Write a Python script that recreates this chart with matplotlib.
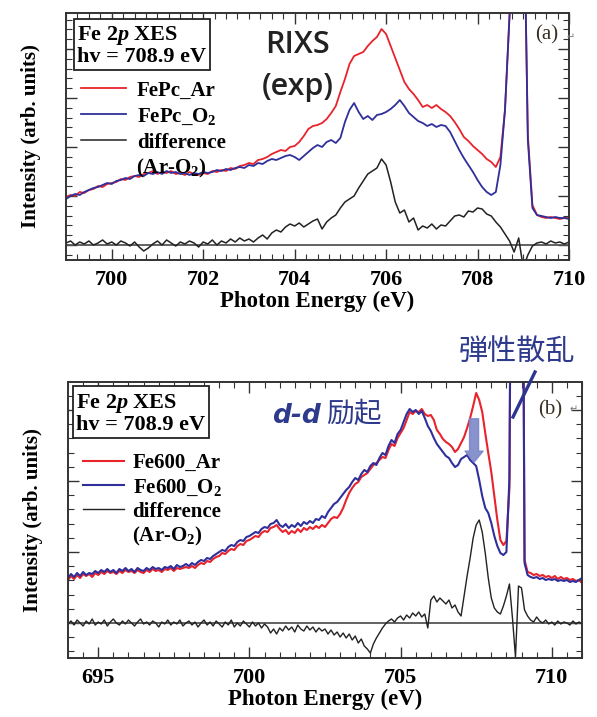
import numpy as np
import matplotlib
matplotlib.use("Agg")
import matplotlib.pyplot as plt
from matplotlib.lines import Line2D
from matplotlib.ticker import MultipleLocator

plt.rcParams['font.family'] = ['Liberation Serif', 'DejaVu Serif']
plt.rcParams['font.weight'] = 'bold'
plt.rcParams['axes.labelweight'] = 'bold'
plt.rcParams['mathtext.fontset'] = 'custom'
plt.rcParams['mathtext.rm'] = 'Liberation Serif:bold'
plt.rcParams['mathtext.bf'] = 'Liberation Serif:bold'
plt.rcParams['mathtext.it'] = 'Liberation Serif:italic:bold'

# ---- panel (a): FePc, 699-710 eV, step 0.1 eV ----
energy_a = np.round(np.arange(699.0, 710.05, 0.1), 1)

fepc_ar = [63, 65, 64, 68, 67, 70, 71, 74, 73, 76,
           77, 78, 81, 80, 83, 84, 83, 86, 87, 89,
           86, 88, 87, 89, 86, 87, 85, 88, 86, 85,
           87, 86, 89, 88, 90, 89, 92, 91, 94, 95,
           97, 96, 100, 101, 103, 106, 108, 110, 109, 113,
           114, 118, 124, 131, 134, 135, 137, 141, 147, 154,
           168, 181, 196, 204, 206, 208, 214, 219, 223, 231,
           226, 214, 202, 190, 178, 171, 166, 160, 153, 155,
           152, 155, 151, 148, 144, 138, 131, 123, 119, 114,
           110, 106, 101, 98, 93, 103, 150, 245, 900, 900,
           400, 125, 55, 45, 43, 42, 43, 42, 41, 42, 42]

fepc_o2 = [61, 64, 66, 65, 68, 70, 72, 73, 75, 77,
           76, 79, 80, 82, 81, 84, 85, 84, 87, 86,
           88, 86, 89, 87, 88, 86, 87, 85, 87, 86,
           88, 87, 88, 90, 89, 91, 90, 92, 93, 92,
           95, 94, 97, 96, 99, 101, 100, 102, 104, 105,
           103, 100, 104, 108, 112, 115, 113, 118, 120, 117,
           122, 138, 150, 157, 148, 141, 144, 140, 145, 146,
           148, 151, 155, 160, 154, 147, 143, 139, 137, 134,
           136, 133, 135, 134, 128, 119, 110, 102, 95, 88,
           80, 73, 68, 65, 68, 95, 150, 245, 900, 900,
           400, 120, 52, 45, 44, 43, 42, 43, 42, 42, 41]

diff_a = [17, 19, 15, 18, 16, 19, 15, 17, 20, 16,
          18, 15, 19, 17, 14, 18, 13, 9, 12, 16,
          19, 15, 20, 17, 14, 18, 16, 19, 17, 13,
          18, 16, 20, 15, 19, 17, 21, 18, 22, 19,
          21, 18, 22, 25, 21, 27, 30, 28, 33, 36,
          34, 37, 33, 36, 39, 41, 31, 38, 42, 45,
          52, 58, 61, 64, 72, 79, 86, 89, 92, 101,
          95, 78, 58, 47, 50, 38, 42, 30, 34, 32,
          36, 31, 35, 34, 39, 44, 45, 43, 49, 48,
          52, 51, 46, 44, 38, 33, 26, 19, 8, 22,
          -8, 5, 14, 17, 18, 16, 19, 17, 18, 16, 18]
zero_a = 15

# ---- panel (b): Fe600, 694-711 eV, step 0.1 eV ----
energy_b = np.round(np.arange(694.0, 711.05, 0.1), 1)

fe600_ar = [78, 82, 79, 83, 80, 84, 82, 84, 81, 85,
            83, 86, 84, 87, 85, 86, 84, 87, 85, 88,
            86, 87, 85, 88, 86, 85, 88, 86, 89, 87,
            88, 86, 89, 88, 90, 87, 90, 89, 90, 91,
            90, 92, 90, 93, 95, 94, 97, 96, 99, 101,
            102, 105, 104, 107, 109, 108, 112, 114, 113, 117,
            118, 120, 122, 121, 125, 127, 126, 130, 131, 133,
            129, 126, 128, 124, 127, 125, 129, 126, 130, 128,
            131, 129, 132, 130, 133, 131, 135, 139, 141, 140,
            144, 150, 158, 165, 170, 174, 176, 181, 183, 185,
            189, 193, 195, 198, 201, 200, 208, 214, 212, 220,
            225, 230, 238, 246, 244, 247, 246, 249, 244, 242,
            243, 238, 228, 224, 219, 216, 214, 211, 206, 209,
            215, 221, 230, 240, 252, 265, 258, 246, 225, 205,
            186, 162, 138, 118, 113, 117, 170, 700, 900, 900,
            700, 98, 86, 85, 83, 84, 82, 83, 81, 82,
            80, 82, 79, 81, 79, 80, 78, 79, 77, 78, 75]

fe600_o2 = [80, 84, 81, 85, 82, 86, 83, 85, 84, 87,
            85, 88, 86, 89, 86, 88, 85, 89, 87, 90,
            87, 89, 86, 90, 88, 87, 90, 88, 91, 89,
            90, 88, 91, 90, 92, 89, 93, 91, 92, 94,
            92, 95, 93, 96, 98, 97, 100, 99, 102, 104,
            106, 108, 107, 111, 113, 112, 116, 118, 117, 121,
            122, 124, 126, 125, 129, 131, 130, 134, 135, 138,
            133, 131, 134, 130, 133, 131, 135, 132, 136, 134,
            137, 135, 139, 138, 142, 140, 146, 150, 154, 156,
            160, 164, 168, 171, 176, 180, 178, 184, 188, 186,
            192, 195, 193, 200, 205, 203, 212, 218, 215, 224,
            228, 236, 244, 249, 246, 248, 244, 247, 240, 232,
            227, 220, 214, 210, 206, 202, 200, 195, 191, 193,
            199, 201, 203, 198, 195, 192, 178, 162, 150, 145,
            135, 122, 112, 105, 103, 106, 180, 700, 900, 900,
            700, 95, 83, 81, 80, 81, 79, 80, 78, 79,
            78, 79, 77, 78, 77, 78, 76, 77, 76, 78, 80]

diff_b = [34, 37, 33, 38, 35, 32, 37, 34, 39, 33,
          36, 34, 38, 32, 36, 39, 35, 33, 37, 34,
          38, 35, 32, 36, 39, 34, 36, 33, 37, 35,
          31, 36, 34, 38, 33, 36, 34, 38, 32, 35,
          37, 33, 36, 31, 35, 38, 33, 36, 32, 37,
          34, 31, 36, 33, 38, 31, 35, 32, 37, 34,
          31, 36, 32, 35, 30, 34, 31, 25, 29, 24,
          30, 27, 32, 28, 31, 26, 33, 29, 27, 32,
          28, 31, 26, 30, 27, 29, 24, 28, 23, 26,
          21, 25, 20, 24, 18, 22, 15, 19, 12, 9,
          5, 14, 20, 25, 30, 34, 37, 39, 36, 40,
          42, 38, 43, 40, 45, 42, 46, 41, 44, 30,
          58, 62, 56, 60, 57, 54, 58, 50, 53, 46,
          42, 62, 82, 100, 120, 133, 138, 126, 105, 80,
          60, 50, 46, 44, 52, 62, 74, 40, 1, 72,
          70, 48, 42, 38, 36, 41, 37, 35, 38, 34,
          36, 33, 37, 34, 36, 35, 33, 37, 34, 36, 34]
zero_b = 35

RED = '#e8232b'
BLUE = '#2f2f9c'
BLACK = '#222222'
TXTBLUE = '#2e3a8c'

W, H = 597, 717
fig = plt.figure(figsize=(W / 100, H / 100), dpi=100)


def px_box(l, t, r, b):
    return [l / W, 1 - b / H, (r - l) / W, (b - t) / H]


def style_axes(ax, xmaj, xmin, ymaj, ymin, y0):
    ax.tick_params(which='both', direction='in', top=True, right=True,
                   labelleft=False, colors='#333333', labelcolor='black',
                   labelsize=16, pad=7)
    ax.tick_params(which='major', length=8, width=1.0)
    ax.tick_params(which='minor', length=4, width=0.8)
    ax.xaxis.set_major_locator(MultipleLocator(xmaj))
    ax.xaxis.set_minor_locator(MultipleLocator(xmin))
    ax.set_yticks(np.arange(y0, 400, ymaj))
    ax.set_yticks(np.arange(y0 - ymaj, 400, ymin), minor=True)
    for s in ax.spines.values():
        s.set_linewidth(1.4)
        s.set_color('#333333')
    ax.set_xlabel('Photon Energy (eV)', fontsize=16.5, labelpad=1)
    ax.set_ylabel('Intensity (arb. units)', fontsize=15, labelpad=18)


# ---------------- panel (a) ----------------
ax1 = fig.add_axes(px_box(66, 13, 569, 260))
ax1.axhline(zero_a, color='#555555', lw=1.3)
ax1.plot(energy_a, diff_a, color=BLACK, lw=1.1)
ax1.plot(energy_a, fepc_ar, color=RED, lw=1.3)
ax1.plot(energy_a, fepc_o2, color=BLUE, lw=1.3)
style_axes(ax1, 2, 0.25, 49, 9.8, zero_a)
ax1.set_xlim(699, 710)
ax1.set_ylim(0, 247)

h1 = [Line2D([], [], color=RED, lw=1.3), Line2D([], [], color=BLUE, lw=1.3),
      Line2D([], [], color=BLACK, lw=1.1)]
ax1.legend(h1, ['FePc_Ar', 'FePc_O$_2$', 'difference'], loc='upper left',
           bbox_to_anchor=(0.0, 0.785), frameon=False, fontsize=15,
           handlelength=2.2, handletextpad=0.5, labelspacing=0.28,
           borderaxespad=0.3)
ax1.text(0.14, 0.37, '(Ar-O$_2$)', transform=ax1.transAxes, fontsize=15,
         va='center', ha='left')
ax1.text(0.022, 0.955, 'Fe 2$p$ XES\nhv = 708.9 eV', transform=ax1.transAxes,
         fontsize=16, va='top', ha='left', linespacing=1.0,
         bbox=dict(boxstyle='square,pad=0.15', fc='white', ec='#222222', lw=1.3))
ax1.text(0.46, 0.87, 'RIXS', transform=ax1.transAxes, fontsize=22,
         family='Open Sans', weight='semibold', color='#222222',
         ha='center', va='center')
ax1.text(0.46, 0.70, '(exp)', transform=ax1.transAxes, fontsize=22,
         family='Open Sans', weight='semibold', color='#222222',
         ha='center', va='center')
ax1.text(0.955, 0.91, '(a)', transform=ax1.transAxes, fontsize=15,
         weight='normal', color='#3a3020', ha='center', va='center')
ax1.text(0.995, 0.90, '\u21b5', transform=ax1.transAxes, fontsize=7,
         family='DejaVu Sans', weight='normal', color='#777777',
         ha='left', va='center', clip_on=False)

# ---------------- panel (b) ----------------
ax2 = fig.add_axes(px_box(68, 382, 582, 658))
ax2.axhline(zero_b, color='#555555', lw=1.3)
ax2.plot(energy_b, diff_b, color=BLACK, lw=1.0)
ax2.plot(energy_b, fe600_ar, color=RED, lw=1.5)
ax2.plot(energy_b, fe600_o2, color=BLUE, lw=1.5)
style_axes(ax2, 5, 0.5, 71, 14.2, zero_b)
ax2.set_xlim(694, 711)
ax2.set_ylim(0, 276)

h2 = [Line2D([], [], color=RED, lw=1.5), Line2D([], [], color=BLUE, lw=1.5),
      Line2D([], [], color=BLACK, lw=1.0)]
ax2.legend(h2, ['Fe600_Ar', 'Fe600_O$_2$', 'difference'], loc='upper left',
           bbox_to_anchor=(0.0, 0.795), frameon=False, fontsize=15,
           handlelength=2.0, handletextpad=0.4, labelspacing=0.2,
           borderaxespad=0.3)
ax2.text(0.125, 0.44, '(Ar-O$_2$)', transform=ax2.transAxes, fontsize=15,
         va='center', ha='left')
ax2.text(0.016, 0.965, 'Fe 2$p$ XES\nhv = 708.9 eV', transform=ax2.transAxes,
         fontsize=16, va='top', ha='left', linespacing=1.0,
         bbox=dict(boxstyle='square,pad=0.15', fc='white', ec='#222222', lw=1.3))
ax2.text(0.938, 0.90, '(b)', transform=ax2.transAxes, fontsize=15,
         weight='normal', color='#3a3020', ha='center', va='center')
ax2.text(0.975, 0.90, '\u21b5', transform=ax2.transAxes, fontsize=7,
         family='DejaVu Sans', weight='normal', color='#777777',
         ha='left', va='center')

# d-d excitation arrow (red peak drops in O2)
ax2.annotate('', xy=(707.43, 193), xytext=(707.43, 242),
             arrowprops=dict(arrowstyle='simple,head_width=1.3,head_length=0.8,tail_width=0.65',
                             fc='#7b86c8', ec='#7b86c8', alpha=0.9))

fig.text(272 / W, 1 - 416 / H, 'd-d', fontsize=19, family='DejaVu Sans',
         weight='bold', style='italic', color=TXTBLUE, va='center', ha='left')
fig.text(326 / W, 1 - 414 / H, '励起', fontsize=20, family=['Noto Sans CJK JP'],
         weight='normal', color=TXTBLUE, va='center', ha='left')
fig.text(517 / W, 1 - 352 / H, '弾性散乱', fontsize=21, family=['Noto Sans CJK JP'],
         weight='normal', color=TXTBLUE, va='center', ha='center')
fig.add_artist(Line2D([513 / W, 535 / W], [1 - 417 / H, 1 - 372 / H],
                      color='#2e3590', lw=2.4))

fig.savefig('out.png', dpi=100)
